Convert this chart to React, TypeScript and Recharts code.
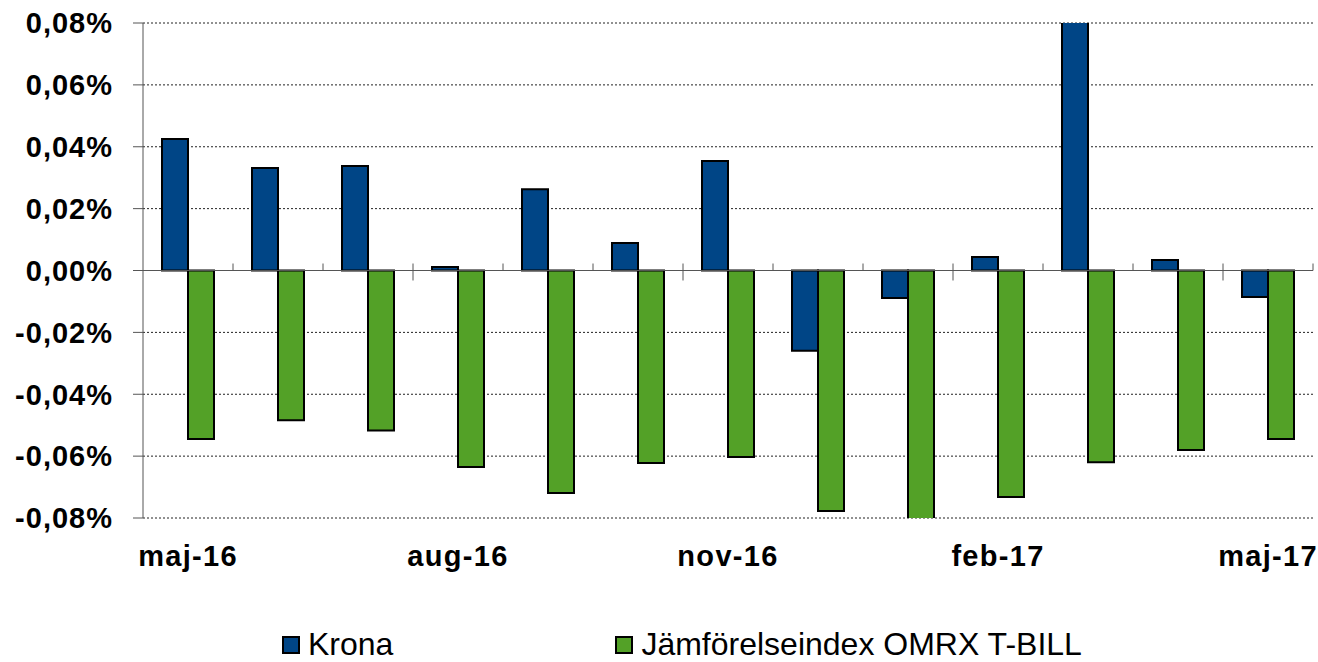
import { BarChart, Bar, XAxis, YAxis, CartesianGrid, ReferenceLine, Legend } from 'recharts'

const months = ['maj-16', 'jun-16', 'jul-16', 'aug-16', 'sep-16', 'okt-16', 'nov-16', 'dec-16', 'jan-17', 'feb-17', 'mar-17', 'apr-17', 'maj-17']
const krona = [0.0425, 0.0331, 0.0338, 0.0011, 0.0263, 0.0089, 0.0354, -0.0259, -0.0089, 0.0044, 0.09, 0.0034, -0.0086]
const omrx = [-0.0545, -0.0484, -0.0517, -0.0635, -0.0719, -0.0622, -0.0603, -0.0777, -0.09, -0.0732, -0.062, -0.058, -0.0545]
const yTicks = [-0.08, -0.06, -0.04, -0.02, 0, 0.02, 0.04, 0.06, 0.08]

const W = 1318
const H = 662
const M = { top: 23, right: 5, bottom: 84, left: 0 }
const Y_W = 143
const X_H = 60
const PLOT_W = W - M.left - M.right - Y_W
const PLOT_H = H - M.top - M.bottom - X_H
const ZERO_Y = M.top + PLOT_H / 2
const FONT = '"Liberation Sans", Arial, sans-serif'
const BLUE = '#004586'
const GREEN = '#53a127'

const data = months.map((m, i) => ({ month: m, krona: krona[i], omrx: omrx[i] }))

const fmt = (v: number) => v.toFixed(2).replace('.', ',') + '%'

function MonthTick(props: any) {
  const { x, payload, index } = props
  const band = PLOT_W / months.length
  const bx = x + band / 2
  const major = index % 3 === 2 && index !== months.length - 1
  return (
    <g>
      <line x1={bx} x2={bx} y1={ZERO_Y - 7} y2={major ? ZERO_Y + 10 : ZERO_Y} stroke="#555" strokeWidth={1} />
      {index % 3 === 0 && (
        <text x={x} y={566} textAnchor="middle" fontFamily={FONT} fontWeight="bold" fontSize={29} letterSpacing={1.3} fill="#000">
          {payload.value}
        </text>
      )}
    </g>
  )
}

function LegendBox() {
  const items = [
    { name: 'Krona', color: BLUE, ml: 282 },
    { name: 'Jämförelseindex OMRX T-BILL', color: GREEN, ml: 222 },
  ]
  return (
    <div style={{ display: 'flex', alignItems: 'center', fontFamily: FONT, fontSize: 32, color: '#000' }}>
      {items.map((it) => (
        <div key={it.name} style={{ display: 'flex', alignItems: 'center', marginLeft: it.ml }}>
          <span style={{ width: 14, height: 14, background: it.color, border: '2px solid #000', marginRight: 8 }} />
          <span>{it.name}</span>
        </div>
      ))}
    </div>
  )
}

export default function App() {
  return (
    <div style={{ position: 'absolute', left: 0, top: 0, width: W, height: H, background: '#fff' }}>
      <BarChart width={W} height={H} data={data} margin={M} barGap={0} barSize={26}>
        <CartesianGrid vertical={false} stroke="#222" strokeDasharray="2 2" />
        <XAxis dataKey="month" height={X_H} interval={0} axisLine={false} tickLine={false} tick={<MonthTick />} />
        <YAxis
          width={Y_W}
          domain={[-0.08, 0.08]}
          ticks={yTicks}
          allowDataOverflow
          tickFormatter={fmt}
          tickSize={10}
          tickMargin={20}
          axisLine={{ stroke: '#555' }}
          tickLine={{ stroke: '#555' }}
          tick={{ fill: '#000', fontSize: 29, fontWeight: 'bold', fontFamily: FONT, letterSpacing: 1 }}
        />
        <ReferenceLine y={0} stroke="#555" strokeWidth={1} />
        <Bar dataKey="krona" name="Krona" fill={BLUE} stroke="#000" strokeWidth={2} isAnimationActive={false} />
        <Bar dataKey="omrx" name="Jämförelseindex OMRX T-BILL" fill={GREEN} stroke="#000" strokeWidth={2} isAnimationActive={false} />
        <Legend
          layout="horizontal"
          verticalAlign="middle"
          align="center"
          wrapperStyle={{ top: 626, left: 0, width: W }}
          content={() => <LegendBox />}
        />
      </BarChart>
    </div>
  )
}
